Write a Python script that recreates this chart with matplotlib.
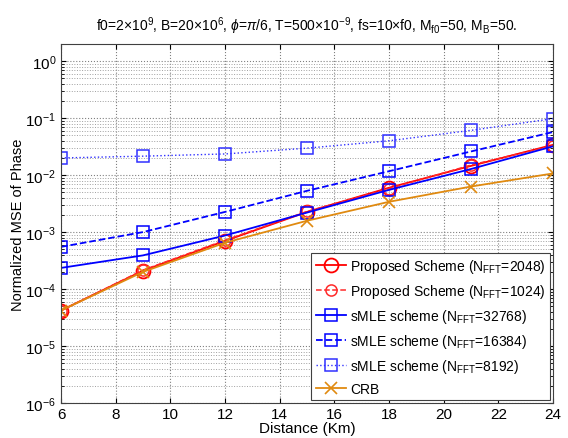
import numpy as np
import matplotlib.pyplot as plt

plt.rcParams['font.family'] = ['Liberation Sans', 'DejaVu Sans']
plt.rcParams['mathtext.fontset'] = 'custom'
plt.rcParams['mathtext.rm'] = 'Liberation Sans'
plt.rcParams['mathtext.it'] = 'Liberation Sans:italic'

distance = [6, 9, 12, 15, 18, 21, 24]
proposed_2048 = [4.2e-5, 2.1e-4, 7.0e-4, 2.26e-3, 6.0e-3, 1.45e-2, 3.4e-2]
proposed_1024 = [4.2e-5, 2.15e-4, 7.2e-4, 2.3e-3, 5.8e-3, 1.5e-2, 3.3e-2]
smle_32768 = [2.35e-4, 3.9e-4, 8.7e-4, 2.2e-3, 5.5e-3, 1.28e-2, 3.2e-2]
smle_16384 = [5.5e-4, 1.0e-3, 2.26e-3, 5.3e-3, 1.17e-2, 2.6e-2, 5.7e-2]
smle_8192 = [2.0e-2, 2.15e-2, 2.35e-2, 2.97e-2, 4.0e-2, 6.1e-2, 9.8e-2]
crb = [4.2e-5, 2.0e-4, 6.5e-4, 1.58e-3, 3.4e-3, 6.3e-3, 1.07e-2]
y_exponents = [-6, -5, -4, -3, -2, -1, 0]

fig = plt.figure(figsize=(5.68, 4.39), dpi=100)
ax = fig.add_axes([0.1074, 0.0797, 0.8662, 0.8178])

ax.semilogy(distance, proposed_2048, '-o', color='#ff0000', lw=1.3, ms=10,
            mfc='none', mew=1.3, label=r'Proposed Scheme (N$_{\mathrm{FFT}}$=2048)')
ax.semilogy(distance, proposed_1024, '--o', color='#ff2a2a', lw=1.1, ms=8,
            mfc='none', mew=1.1, label=r'Proposed Scheme (N$_{\mathrm{FFT}}$=1024)')
ax.semilogy(distance, smle_32768, '-s', color='#0000ff', lw=1.3, ms=9,
            mfc='none', mew=1.1, label=r'sMLE scheme (N$_{\mathrm{FFT}}$=32768)')
ax.semilogy(distance, smle_16384, '--s', color='#0000ff', lw=1.3, ms=9,
            mfc='none', mew=1.1, label=r'sMLE scheme (N$_{\mathrm{FFT}}$=16384)')
ax.semilogy(distance, smle_8192, ':s', color='#3030ff', lw=1.0, ms=9,
            mfc='none', mew=1.1, label=r'sMLE scheme (N$_{\mathrm{FFT}}$=8192)')
ax.semilogy(distance, crb, '-x', color='#e08a10', lw=1.3, ms=9,
            mew=1.2, label='CRB')

ax.set_xlim(6, 24)
ax.set_ylim(1e-6, 2)
ax.set_xticks(range(6, 25, 2))
major = [10.0 ** e for e in y_exponents]
ax.set_yticks(major, [rf'10$^{{{e}}}$' for e in y_exponents])
minor = [m * 10.0 ** e for e in y_exponents for m in range(2, 10) if m * 10.0 ** e < 2]
ax.set_yticks(minor, [''] * len(minor), minor=True)
ax.grid(True, which='major', linestyle=':', color='#808080', lw=0.8)
ax.grid(True, which='minor', axis='y', linestyle=':', color='#a0a0a0', lw=0.7)
ax.tick_params(which='both', direction='in', top=True, right=True, labelsize=11)
ax.tick_params(axis='x', pad=3)
ax.tick_params(which='minor', length=2)
for s in ax.spines.values():
    s.set_color('#404040')

ax.set_xlabel('Distance (Km)', fontsize=11, labelpad=0)
ax.set_ylabel('Normalized MSE of Phase', fontsize=10.5, labelpad=0)
ax.set_title(r'f0=2$\times$10$^9$, B=20$\times$10$^6$, $\phi$=$\pi$/6, T=500$\times$10$^{-9}$, '
             r'fs=10$\times$f0, M$_{\mathrm{f0}}$=50, M$_{\mathrm{B}}$=50.', fontsize=10, pad=10)

leg = ax.legend(loc='lower right', bbox_to_anchor=(1.0, 0.0), fontsize=10,
                fancybox=False, framealpha=1, edgecolor='#404040',
                borderaxespad=0.2, handlelength=2.2, labelspacing=0.5,
                borderpad=0.3, handletextpad=0.3)
leg.get_frame().set_linewidth(0.8)

fig.savefig('out.png', dpi=100)
